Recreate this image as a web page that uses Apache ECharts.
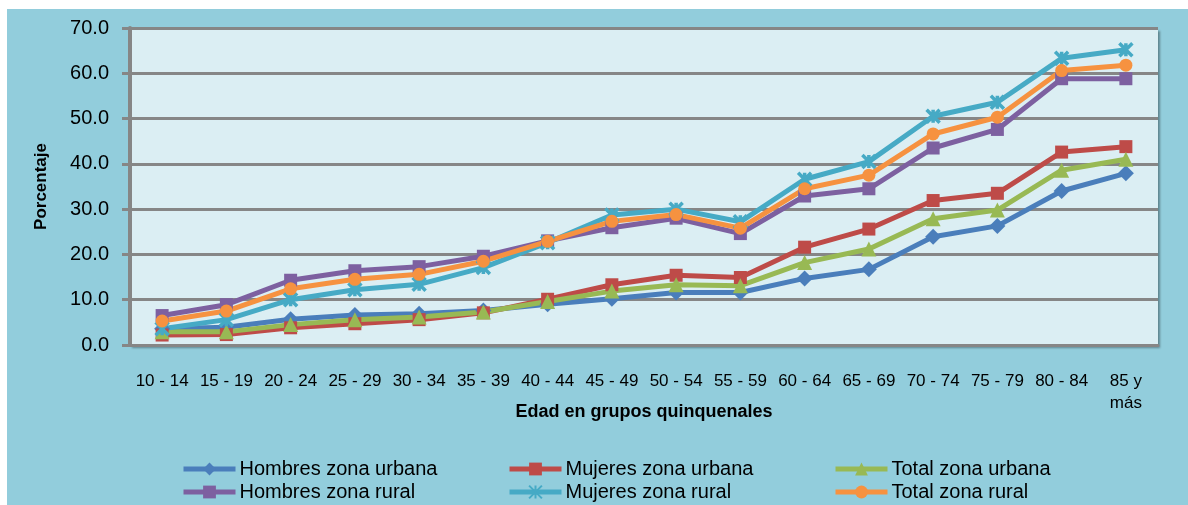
<!DOCTYPE html>
<html>
<head>
<meta charset="utf-8">
<script src="https://cdn.jsdelivr.net/npm/echarts@6/dist/echarts.min.js"></script>
<style>
  html, body { margin: 0; padding: 0; background: #ffffff; }
  #chart { position: absolute; left: 7px; top: 9px; width: 1181px; height: 496px; background: #92CDDC; }
</style>
</head>
<body>
<div id="chart"></div>
<script>
// grupos de edad
var categorias = ['10 - 14', '15 - 19', '20 - 24', '25 - 29', '30 - 34', '35 - 39', '40 - 44', '45 - 49',
    '50 - 54', '55 - 59', '60 - 64', '65 - 69', '70 - 74', '75 - 79', '80 - 84', '85 y\nmás'];

var hombresUrbana = [3.6, 3.9, 5.7, 6.6, 6.9, 7.6, 9.0, 10.2, 11.6, 11.6, 14.7, 16.7, 23.9, 26.3, 34.0, 37.9];
var mujeresUrbana = [2.2, 2.3, 3.8, 4.7, 5.6, 7.1, 10.1, 13.3, 15.4, 14.9, 21.6, 25.6, 31.9, 33.5, 42.6, 43.8];
var totalUrbana   = [2.9, 2.9, 4.5, 5.6, 6.2, 7.3, 9.6, 11.9, 13.3, 13.1, 18.2, 21.2, 27.9, 29.8, 38.6, 41.0];
var hombresRural  = [6.5, 8.9, 14.3, 16.4, 17.3, 19.6, 23.0, 25.9, 28.0, 24.6, 32.9, 34.5, 43.5, 47.6, 58.8, 58.8];
var mujeresRural  = [3.6, 5.6, 10.0, 12.2, 13.4, 17.1, 22.6, 28.7, 30.0, 27.2, 36.6, 40.5, 50.5, 53.6, 63.3, 65.2];
var totalRural    = [5.3, 7.5, 12.4, 14.5, 15.6, 18.5, 22.9, 27.3, 28.8, 25.8, 34.5, 37.5, 46.6, 50.3, 60.6, 61.8];

var chart = echarts.init(document.getElementById('chart'));

var fuente = '"Liberation Sans", Arial, sans-serif';
var aspa = 'path://M0,0L10,10M10,0L0,10M5,0L5,10';   // marcador tipo asterisco

function serie(nombre, datos, color, simbolo, tam) {
    var s = {
        name: nombre,
        type: 'line',
        data: datos,
        symbol: simbolo,
        symbolSize: tam,
        showAllSymbol: true,
        lineStyle: { color: color, width: 5 },
        itemStyle: { color: color },
        animation: false
    };
    if (simbolo === aspa) {
        s.itemStyle = { color: color, borderColor: color, borderWidth: 3.5 };
    }
    return s;
}

// una leyenda por elemento para alinear las columnas
function leyenda(nombre, x, y) {
    return {
        left: x, top: y,
        padding: 0,
        itemWidth: 52,
        itemHeight: 16,
        itemGap: 0,
        data: [nombre],
        lineStyle: { width: 5 },
        textStyle: { fontFamily: fuente, fontSize: 20, color: '#000', padding: [0, 0, 0, -1] }
    };
}

var option = {
    backgroundColor: '#92CDDC',
    grid: {
        left: 123, right: 30, top: 19, bottom: 160,
        show: true,
        backgroundColor: '#DBEEF3',
        borderWidth: 0,
        shadowColor: 'rgba(0,0,0,0.35)',
        shadowOffsetX: 2,
        shadowOffsetY: 3,
        shadowBlur: 2
    },
    legend: [
        leyenda('Hombres zona urbana', 174, 450),
        leyenda('Mujeres zona urbana', 500, 450),
        leyenda('Total zona urbana', 826, 450),
        leyenda('Hombres zona rural', 174, 473),
        leyenda('Mujeres zona rural', 500, 473),
        leyenda('Total zona rural', 826, 473)
    ],
    xAxis: {
        type: 'category',
        data: categorias,
        boundaryGap: true,
        name: 'Edad en grupos quinquenales',
        nameLocation: 'middle',
        nameGap: 58,
        nameMoveOverlap: false,
        nameTextStyle: { fontFamily: fuente, fontSize: 18, fontWeight: 'bold', color: '#000' },
        axisLine: { lineStyle: { color: '#868686', width: 3 } },
        axisTick: { show: false },
        axisLabel: { fontFamily: fuente, fontSize: 17, color: '#000', margin: 25, interval: 0, lineHeight: 22 }
    },
    yAxis: {
        type: 'value',
        min: 0, max: 70, interval: 10,
        name: 'Porcentaje',
        nameLocation: 'middle',
        nameGap: 80,
        nameMoveOverlap: false,
        nameTextStyle: { fontFamily: fuente, fontSize: 17, fontWeight: 'bold', color: '#000' },
        axisLine: { show: true, lineStyle: { color: '#868686', width: 4 } },
        axisTick: { show: true, length: 8, lineStyle: { color: '#868686', width: 3 } },
        splitLine: { lineStyle: { color: '#868686', width: 3 } },
        axisLabel: {
            fontFamily: fuente, fontSize: 20, color: '#000', margin: 21,
            formatter: function (v) { return v.toFixed(1); }
        }
    },
    series: [
        serie('Hombres zona urbana', hombresUrbana, '#4A7EBB', 'diamond', 16),
        serie('Mujeres zona urbana', mujeresUrbana, '#BE4B48', 'rect', 13),
        serie('Total zona urbana', totalUrbana, '#98B954', 'triangle', 15),
        serie('Hombres zona rural', hombresRural, '#7D60A0', 'rect', 13),
        serie('Mujeres zona rural', mujeresRural, '#46AAC5', aspa, 13),
        serie('Total zona rural', totalRural, '#F69240', 'circle', 13)
    ]
};

chart.setOption(option);
</script>
</body>
</html>
